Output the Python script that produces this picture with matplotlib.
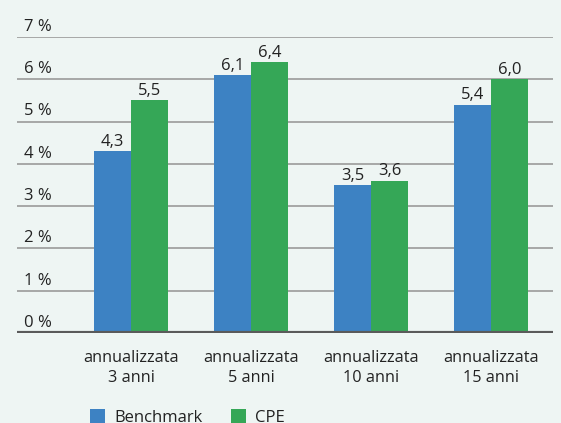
import numpy as np
import matplotlib.pyplot as plt
import matplotlib.transforms as mtransforms

plt.rcParams['font.family'] = ['Open Sans', 'DejaVu Sans']

COLORS = {
    'bg':    '#eef5f3',
    'blue':  '#3d82c3',
    'green': '#35a757',
    'grid':  '#9a9a9a',
    'base':  '#5a5a5a',
    'text':  '#222222',
}

categories = ['annualizzata\n3 anni', 'annualizzata\n5 anni',
              'annualizzata\n10 anni', 'annualizzata\n15 anni']
benchmark = [4.3, 6.1, 3.5, 5.4]
cpe = [5.5, 6.4, 3.6, 6.0]
yticks = [0, 1, 2, 3, 4, 5, 6, 7]

fig = plt.figure(figsize=(5.61, 4.23), dpi=100)
fig.patch.set_facecolor(COLORS['bg'])
ax = fig.add_axes([17 / 561, 90 / 423, 536 / 561, 296 / 423])
ax.set_facecolor(COLORS['bg'])

x = np.arange(len(categories))
w = 0.308
b1 = ax.bar(x - w / 2, benchmark, w, color=COLORS['blue'], label='Benchmark', zorder=3)
b2 = ax.bar(x + w / 2, cpe, w, color=COLORS['green'], label='CPE', zorder=3)

ax.set_xlim(-0.95, 3.517)
ax.set_ylim(0, 7)

# gridlines + labels above them
for t in yticks[1:]:
    ax.axhline(t, color=COLORS['grid'], lw=1.2, zorder=1)
ax.axhline(0, color=COLORS['base'], lw=3, zorder=4)
off = mtransforms.offset_copy(ax.get_yaxis_transform(), fig=fig, x=5, y=1.5, units='points')
for t in yticks:
    ax.text(0, t, f'{t} %', transform=off, ha='left', va='bottom',
            fontsize=12, color=COLORS['text'])

for bars, vals in ((b1, benchmark), (b2, cpe)):
    for r, v in zip(bars, vals):
        ax.annotate(f'{v:.1f}'.replace('.', ','), (r.get_x() + r.get_width() / 2, v),
                    xytext=(0, 1), textcoords='offset points',
                    ha='center', va='bottom', fontsize=12, color=COLORS['text'])

for xi, lab in zip(x, categories):
    ax.text(xi, -0.4, lab, ha='center', va='top', fontsize=11.7,
            color=COLORS['text'], linespacing=1.3)

for s in ax.spines.values():
    s.set_visible(False)
ax.set_xticks([])
ax.set_yticks([])

leg = fig.legend(handles=[b1, b2], labels=['Benchmark', 'CPE'],
                 loc='upper left', bbox_to_anchor=(90 / 561, 14 / 423),
                 ncol=2, frameon=False, fontsize=12, borderpad=0, borderaxespad=0,
                 handlelength=0.9, handleheight=0.9, handletextpad=0.55,
                 columnspacing=1.7)
for tx in leg.get_texts():
    tx.set_color(COLORS['text'])

fig.savefig('out.png', dpi=100, facecolor=fig.get_facecolor())
